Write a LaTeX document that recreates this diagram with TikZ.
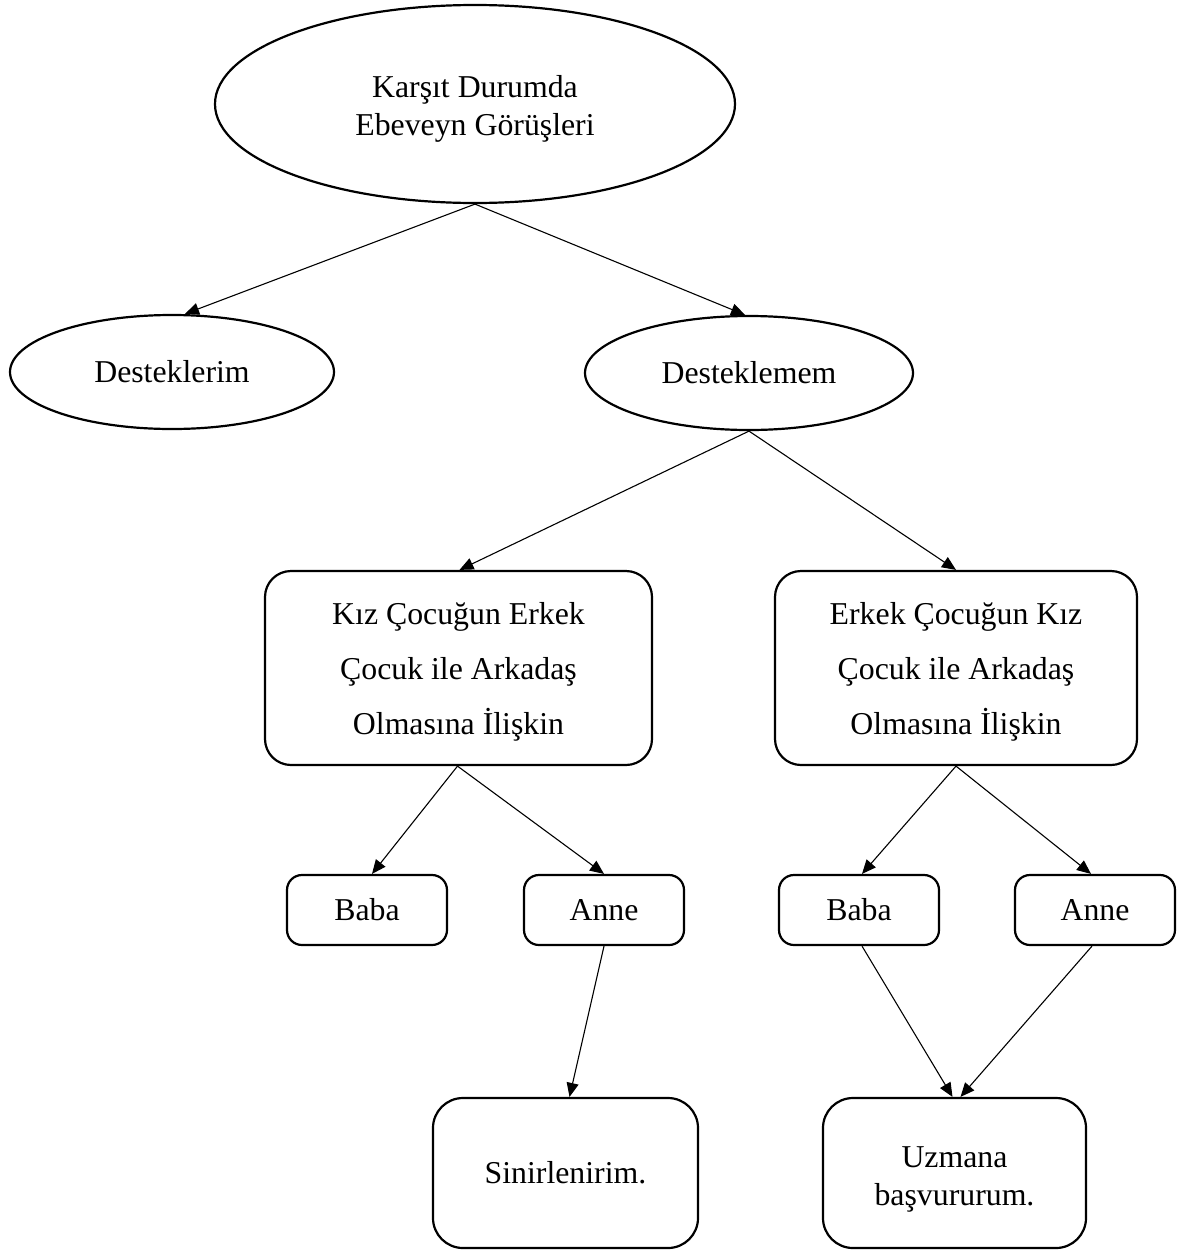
\documentclass[tikz,border=0pt]{standalone}
\usepackage{fontspec}
\setmainfont{Liberation Serif}
\usetikzlibrary{shapes.geometric,arrows.meta}
\newcommand\dnstrut[1]{\rule{0pt}{#1}}
\begin{document}
\begin{tikzpicture}[x=1pt,y=-1pt,
  txt/.style={font=\fontsize{31.8}{38.5}\selectfont, align=center, inner sep=0pt},
  oval/.style={txt, ellipse, draw, line width=2.2pt},
  bigbox/.style={txt, font=\fontsize{31.8}{55}\selectfont, draw, line width=2.2pt, rounded corners=26pt},
  smallbox/.style={txt, draw, line width=2.2pt, rounded corners=15pt, minimum width=160pt, minimum height=70pt},
  endbox/.style={txt, draw, line width=2.2pt, rounded corners=30pt, minimum width=265pt, minimum height=150pt},
  arr/.style={line width=1.1pt, -{Triangle[length=14pt,width=12pt]}}
]
\useasboundingbox (0,0) rectangle (1181,1250);

\node[oval, minimum width=520pt, minimum height=198pt] (top) at (475,104) {\dnstrut{32pt}Karşıt Durumda\\Ebeveyn Görüşleri};
\node[oval, minimum width=324pt, minimum height=114pt] (d1) at (172,372) {Desteklerim};
\node[oval, minimum width=328pt, minimum height=114pt] (d2) at (749,373) {Desteklemem};

\node[bigbox, minimum width=387pt, minimum height=194pt] (k1) at (458.5,668) {\dnstrut{30pt}Kız Çocuğun Erkek\\Çocuk ile Arkadaş\\Olmasına İlişkin};
\node[bigbox, minimum width=362pt, minimum height=194pt] (k2) at (956,668) {\dnstrut{30pt}Erkek Çocuğun Kız\\Çocuk ile Arkadaş\\Olmasına İlişkin};

\node[smallbox] (b1) at (367,910) {Baba};
\node[smallbox] (a1) at (604,910) {Anne};
\node[smallbox] (b2) at (859,910) {Baba};
\node[smallbox] (a2) at (1095,910) {Anne};

\node[endbox] (s) at (565.5,1173) {Sinirlenirim.};
\node[endbox, minimum width=263pt] (u) at (954.5,1173) {\dnstrut{34pt}Uzmana\\başvururum.};

\draw[arr] (top.south) -- ([xshift=13pt]d1.north);
\draw[arr] (top.south) -- ([xshift=-4pt]d2.north);
\draw[arr] (d2.south) -- ([xshift=1pt]k1.north);
\draw[arr] (d2.south) -- (k2.north);
\draw[arr] ([xshift=-1pt]k1.south) -- ([xshift=5pt]b1.north);
\draw[arr] ([xshift=-1pt]k1.south) -- (a1.north);
\draw[arr] (k2.south) -- ([xshift=3pt]b2.north);
\draw[arr] (k2.south) -- ([xshift=-4pt]a2.north);
\draw[arr] (a1.south) -- ([xshift=4pt]s.north);
\draw[arr] ([xshift=3pt]b2.south) -- ([xshift=-2pt]u.north);
\draw[arr] ([xshift=-3pt]a2.south) -- ([xshift=6pt]u.north);
\end{tikzpicture}
\end{document}
